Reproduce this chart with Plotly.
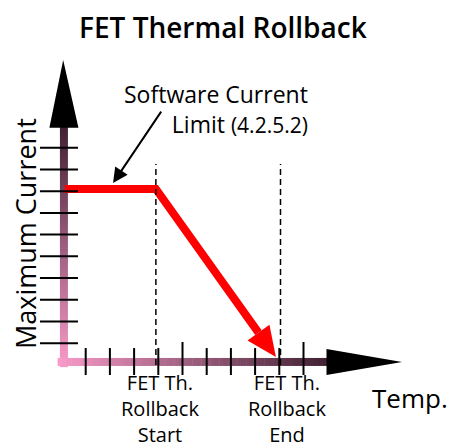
import numpy as np
import plotly.graph_objects as go

# ---- data -------------------------------------------------------------
temp_ticks = list(range(1, 11))          # temperature tick positions
current_ticks = list(range(1, 11))       # current tick positions
major_temp_ticks = [5, 10]
rollback_start = 3.9
rollback_end = 9.05
profile_temp = [0.14, 3.9, 8.86]         # current limit vs temperature
profile_current = [8.1, 8.1, 0.37]

# ---- geometry / style --------------------------------------------------
W, H = 452, 448
PX_X, PX_Y = 24.2, 21.73                 # pixels per data unit
X_ORIGIN_PX, Y_ORIGIN_PX = 61.5, 365.0
x_range = [-X_ORIGIN_PX / PX_X, (W - X_ORIGIN_PX) / PX_X]
y_range = [(Y_ORIGIN_PX - H) / PX_Y, Y_ORIGIN_PX / PX_Y]

PINK = np.array([247, 154, 200])
DARK = np.array([66, 34, 52])
FONT = "Open Sans"

fig = go.Figure()
shapes = []


def mix(t):
    c = PINK + (DARK - PINK) * t
    return "rgb(%d,%d,%d)" % tuple(c.round().astype(int))


# gradient axis bars (pink at origin, dark at far end)
N = 60
yb = np.linspace(-0.1, 10.95, N + 1)
for i in range(N):
    shapes.append(dict(type="line", x0=0.1, x1=0.1, y0=yb[i], y1=yb[i + 1] + 0.02,
                       line=dict(color=mix(i / (N - 1)), width=8)))
xb = np.linspace(-0.16, 10.97, N + 1)
for i in range(N):
    shapes.append(dict(type="line", x0=xb[i], x1=xb[i + 1] + 0.02, y0=0.14, y1=0.14,
                       line=dict(color=mix(i / (N - 1)), width=8)))

# axis arrowheads
shapes.append(dict(type="path", path="M -0.5,10.92 L 0.7,10.92 L 0.07,14.04 Z",
                   fillcolor="black", line=dict(width=0)))
shapes.append(dict(type="path", path="M 10.95,-0.46 L 10.95,0.74 L 14.07,0.14 Z",
                   fillcolor="black", line=dict(width=0)))

# tick marks
for t in current_ticks:
    shapes.append(dict(type="line", x0=-0.89, x1=0.68, y0=t, y1=t,
                       line=dict(color="black", width=2)))
for t in temp_ticks:
    top = 1.06 if t in major_temp_ticks else 0.78
    shapes.append(dict(type="line", x0=t, x1=t, y0=-0.46, y1=top,
                       line=dict(color="black", width=2)))

# rollback markers
for xr in (rollback_start, rollback_end):
    shapes.append(dict(type="line", x0=xr, x1=xr, y0=0.0, y1=9.25,
                       line=dict(color="black", width=1.5, dash="6px,4px")))

# current limit profile with arrowhead at its end
tip = np.array([profile_temp[-1] * PX_X, profile_current[-1] * PX_Y])
prev = np.array([profile_temp[-2] * PX_X, profile_current[-2] * PX_Y])
u = (tip - prev) / np.linalg.norm(tip - prev)
perp = np.array([-u[1], u[0]])
head_len, head_half = 30.0, 13.5
base = tip - u * head_len
c1 = base + perp * head_half
c2 = base - perp * head_half
line_x = profile_temp[:-1] + [base[0] / PX_X]
line_y = profile_current[:-1] + [base[1] / PX_Y]
fig.add_trace(go.Scatter(x=line_x, y=line_y, mode="lines",
                         line=dict(color="#ff0000", width=8), hoverinfo="skip"))
shapes.append(dict(type="path",
                   path="M %f,%f L %f,%f L %f,%f Z" % (
                       c1[0] / PX_X, c1[1] / PX_Y, tip[0] / PX_X, tip[1] / PX_Y,
                       c2[0] / PX_X, c2[1] / PX_Y),
                   fillcolor="#ff0000", line=dict(width=0)))

fig.update_traces(cliponaxis=False)

annotations = [
    dict(x=2.13, y=8.37, ax=4.16, ay=11.73, axref="x", ayref="y", xref="x", yref="y",
         text="", showarrow=True, arrowhead=2, arrowsize=1.5, arrowwidth=2,
         arrowcolor="black"),
]


def label(text, xp, yp, size, weight=500, xanchor="center", **kw):
    d = dict(text=text, x=xp / W, y=1 - yp / H, xref="paper", yref="paper",
             xanchor=xanchor, yanchor="middle", showarrow=False,
             font=dict(family=FONT, size=size, color="black", weight=weight))
    d.update(kw)
    return d


annotations += [
    label("FET Thermal Rollback", 223, 27, 28, weight=600),
    label("Software Current<br>Limit <span style='font-size:21px'>(4.2.5.2)</span>",
          310, 109, 23, xanchor="right", align="right"),
    label("Maximum Current", 25, 234, 27, textangle=-90),
    label("Temp.", 410, 398, 26),
    label("FET Th.<br>Rollback<br>Start", 160, 408, 20),
    label("FET Th.<br>Rollback<br>End", 287, 408, 20),
]

fig.update_layout(
    width=W, height=H,
    margin=dict(l=0, r=0, t=0, b=0),
    paper_bgcolor="white", plot_bgcolor="white",
    showlegend=False,
    xaxis=dict(range=x_range, visible=False, fixedrange=True),
    yaxis=dict(range=y_range, visible=False, fixedrange=True),
    shapes=[dict(s, layer="below") for s in shapes[:2 * N]] + shapes[2 * N:],
    annotations=annotations,
)

fig.write_html("out.html")
